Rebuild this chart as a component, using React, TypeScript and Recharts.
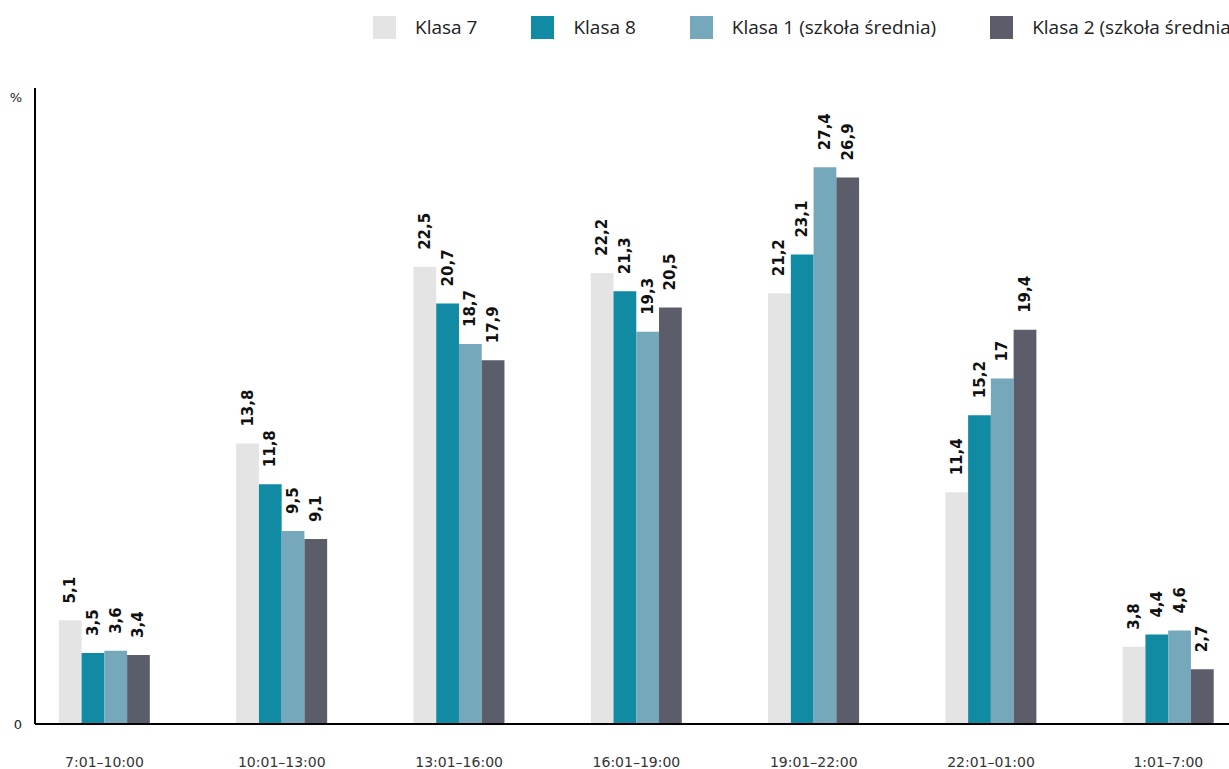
import { BarChart, Bar, XAxis, YAxis, Legend, LabelList } from 'recharts';

const categories = ['7:01–10:00', '10:01–13:00', '13:01–16:00', '16:01–19:00', '19:01–22:00', '22:01–01:00', '1:01–7:00'];
const klasa7 = [5.1, 13.8, 22.5, 22.2, 21.2, 11.4, 3.8];
const klasa8 = [3.5, 11.8, 20.7, 21.3, 23.1, 15.2, 4.4];
const klasa1 = [3.6, 9.5, 18.7, 19.3, 27.4, 17, 4.6];
const klasa2 = [3.4, 9.1, 17.9, 20.5, 26.9, 19.4, 2.7];

const seriesNames = ['Klasa 7', 'Klasa 8', 'Klasa 1 (szkoła średnia)', 'Klasa 2 (szkoła średnia)'];
const colors = ['#e4e4e4', '#118aa3', '#75a8bb', '#5b5e6a'];

const data = categories.map((name, i) => ({
  name,
  k7: klasa7[i],
  k8: klasa8[i],
  k1: klasa1[i],
  k2: klasa2[i],
}));

const LEGEND_FONT = '"Open Sans", sans-serif';
const AXIS_FONT = '"DejaVu Sans", sans-serif';
const fmt = (v: number) => String(v).replace('.', ',');

const ValueLabel = (props: any) => {
  const { x, y, width, value } = props;
  const cx = x + width / 2;
  const ty = y - 17;
  return (
    <text
      x={cx}
      y={ty}
      transform={`rotate(-90, ${cx}, ${ty})`}
      textAnchor="start"
      dominantBaseline="central"
      fontFamily={AXIS_FONT}
      fontWeight={700}
      fontSize={15}
      fill="#111"
    >
      {fmt(value)}
    </text>
  );
};

const YTick = (props: any) => {
  const { x, y, payload } = props;
  const isTop = payload.value !== 0;
  return (
    <text x={x + 1} y={isTop ? y + 9 : y} textAnchor="end" dominantBaseline="central" fontFamily={AXIS_FONT} fontSize={13} fill="#222">
      {isTop ? '%' : '0'}
    </text>
  );
};

const LegendContent = () => (
  <div style={{ display: 'flex', alignItems: 'center', paddingLeft: 373, paddingTop: 14, fontFamily: LEGEND_FONT, fontSize: 19, color: '#222', whiteSpace: 'nowrap' }}>
    {seriesNames.map((n, i) => (
      <div key={n} style={{ display: 'flex', alignItems: 'center', marginRight: 54 }}>
        <span style={{ width: 23, height: 23, background: colors[i], marginRight: 19, display: 'inline-block' }} />
        <span>{n}</span>
      </div>
    ))}
  </div>
);

export default function App() {
  return (
    <div style={{ position: 'fixed', left: 0, top: 0, width: 1229, height: 769, overflow: 'hidden', background: '#fff' }}>
      <BarChart
        width={1257}
        height={769}
        data={data}
        margin={{ top: 38, right: 0, bottom: 0, left: 0 }}
        barGap={0}
        barSize={22.75}
      >
        <Legend
          verticalAlign="top"
          content={<LegendContent />}
          wrapperStyle={{ top: 0, left: 0, width: 1257, height: 50 }}
        />
        <XAxis
          dataKey="name"
          padding={{ left: -19.15, right: 0 }}
          axisLine={{ stroke: '#000', strokeWidth: 2 }}
          tickLine={false}
          tickMargin={27}
          height={45}
          interval={0}
          tick={{ fontFamily: AXIS_FONT, fontSize: 14, fill: '#333' }}
        />
        <YAxis
          width={35}
          domain={[0, 31.3]}
          ticks={[0, 31.3]}
          axisLine={{ stroke: '#000', strokeWidth: 2 }}
          tickLine={false}
          tickMargin={8}
          tick={<YTick />}
        />
        <Bar dataKey="k7" name={seriesNames[0]} fill={colors[0]} isAnimationActive={false}>
          <LabelList dataKey="k7" content={<ValueLabel />} />
        </Bar>
        <Bar dataKey="k8" name={seriesNames[1]} fill={colors[1]} isAnimationActive={false}>
          <LabelList dataKey="k8" content={<ValueLabel />} />
        </Bar>
        <Bar dataKey="k1" name={seriesNames[2]} fill={colors[2]} isAnimationActive={false}>
          <LabelList dataKey="k1" content={<ValueLabel />} />
        </Bar>
        <Bar dataKey="k2" name={seriesNames[3]} fill={colors[3]} isAnimationActive={false}>
          <LabelList dataKey="k2" content={<ValueLabel />} />
        </Bar>
      </BarChart>
    </div>
  );
}
